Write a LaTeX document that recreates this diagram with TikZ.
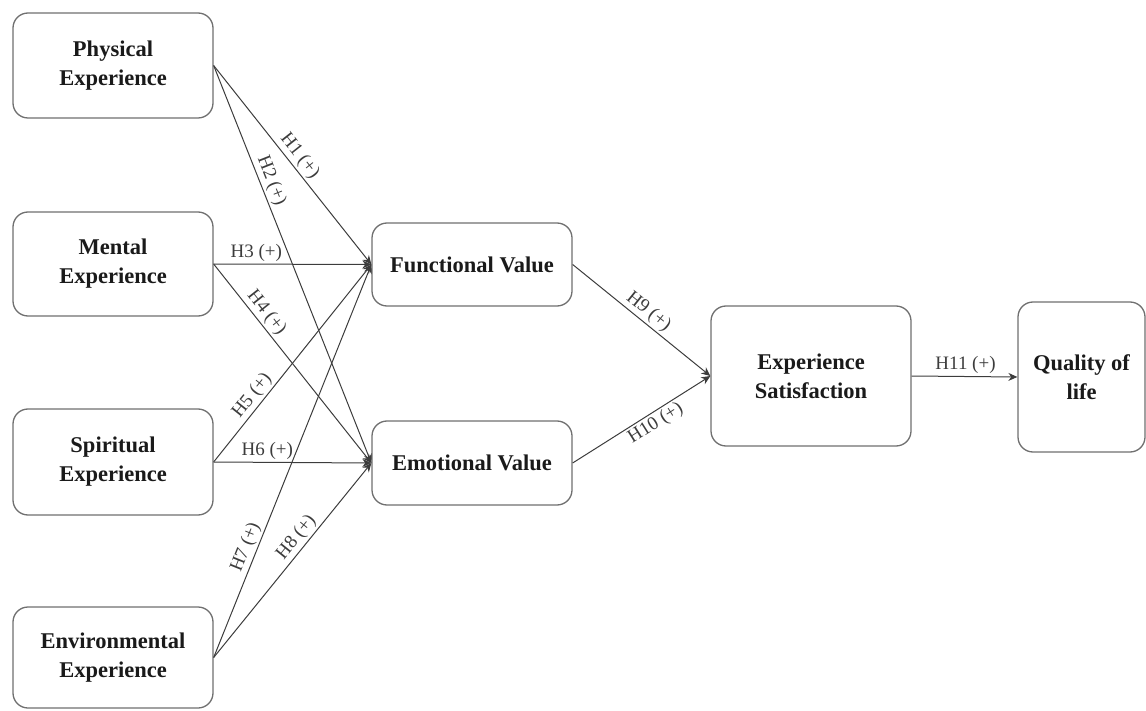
\documentclass[tikz,border=0pt]{standalone}
\usepackage{fontspec}
\setmainfont{Liberation Serif}
\usetikzlibrary{arrows.meta}
\definecolor{boxline}{HTML}{707070}
\definecolor{conn}{HTML}{3C3C3C}
\definecolor{txt}{HTML}{1A1A1A}
\tikzset{
  box/.style={draw=boxline, line width=1.3pt, rounded corners=15pt, fill=white,
    minimum width=200pt, minimum height=#1, align=center, text=txt,
    font=\fontsize{22.5}{29}\selectfont\bfseries, inner sep=0pt},
  link/.style={draw=conn, line width=1pt, -{Stealth[length=9pt,width=8pt]}},
  hlab/.style={font=\fontsize{19}{22}\selectfont, text=conn, inner sep=2pt},
}
\begin{document}
\begin{tikzpicture}[x=1pt,y=-1pt]
\useasboundingbox (0,0) rectangle (1146,711);
\node[box=105pt] (phy) at (113,65.5) {Physical\\Experience};
\node[box=104pt] (men) at (113,264) {Mental\\Experience};
\node[box=106pt] (spi) at (113,462) {Spiritual\\Experience};
\node[box=101pt] (env) at (113,657.5) {Environmental\\Experience};
\node[box=83pt] (fun) at (472,264.5) {Functional Value};
\node[box=84pt] (emo) at (472,463) {Emotional Value};
\node[box=140pt] (sat) at (811,376) {Experience\\Satisfaction};
\node[box=150pt, minimum width=127pt] (qol) at (1081.5,377) {Quality of\\life};

\draw[link] (phy.east) -- node[hlab, sloped, above, pos=0.49] {H1 (+)} (fun.west);
\draw[link] (phy.east) -- node[hlab, sloped, above, pos=0.30] {H2 (+)} (emo.west);
\draw[link] (men.east) -- node[hlab, above, pos=0.27] {H3 (+)} (fun.west);
\draw[link] (men.east) -- node[hlab, sloped, above, pos=0.28] {H4 (+)} (emo.west);
\draw[link] (spi.east) -- node[hlab, sloped, above, pos=0.30] {H5 (+)} (fun.west);
\draw[link] (spi.east) -- node[hlab, above, pos=0.34] {H6 (+)} (emo.west);
\draw[link] (env.east) -- node[hlab, sloped, above, pos=0.27] {H7 (+)} (fun.west);
\draw[link] (env.east) -- node[hlab, sloped, above, pos=0.58] {H8 (+)} (emo.west);
\draw[link] (fun.east) -- node[hlab, sloped, above, pos=0.50] {H9 (+)} (sat.west);
\draw[link] (emo.east) -- node[hlab, sloped, below, pos=0.56] {H10 (+)} (sat.west);
\draw[link] (sat.east) -- node[hlab, above, pos=0.51] {H11 (+)} (qol.west);
\end{tikzpicture}
\end{document}
